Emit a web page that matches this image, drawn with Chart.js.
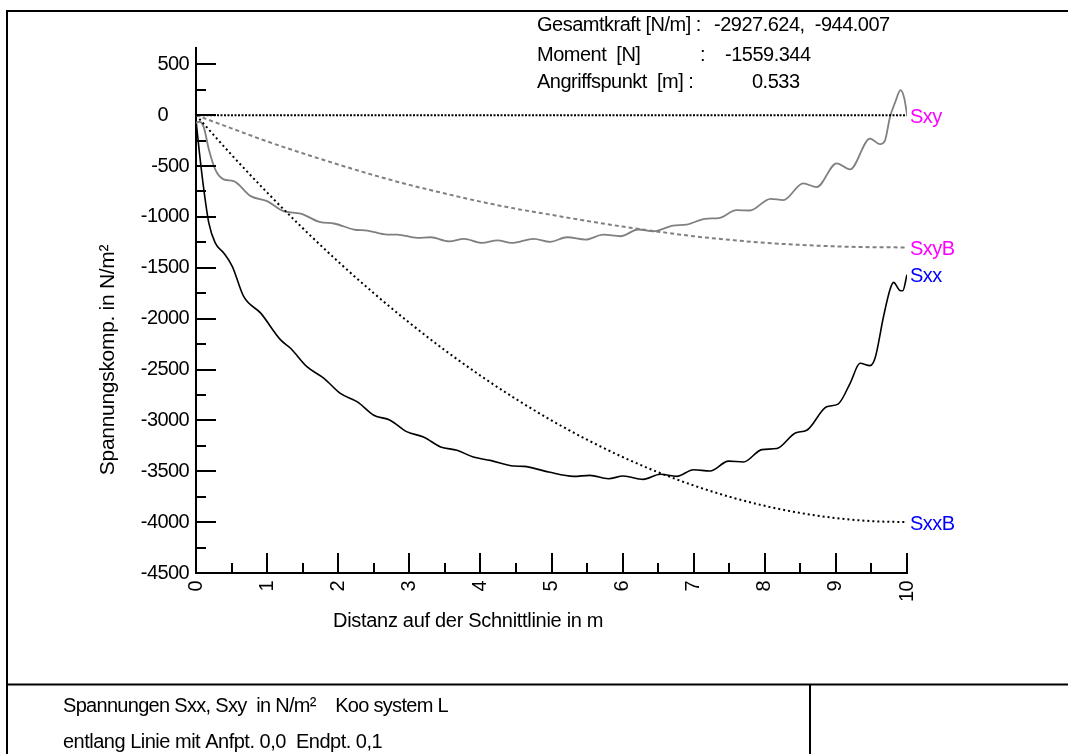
<!DOCTYPE html>
<html><head><meta charset="utf-8">
<script src="https://cdn.jsdelivr.net/npm/chart.js@4/dist/chart.umd.min.js"></script>
<style>html,body{margin:0;padding:0;background:#fff;overflow:hidden}#wrap{width:1068px;height:754px;position:relative}</style>
</head><body><div id="wrap"><canvas id="c" width="1068" height="754"></canvas></div>
<script>
// ---- data ----
const xTicks = [0,0.5,1,1.5,2,2.5,3,3.5,4,4.5,5,5.5,6,6.5,7,7.5,8,8.5,9,9.5,10];
const xTickLabels = ['0','','1','','2','','3','','4','','5','','6','','7','','8','','9','','10'];
const yTicks = [-4500,-4250,-4000,-3750,-3500,-3250,-3000,-2750,-2500,-2250,-2000,-1750,-1500,-1250,-1000,-750,-500,-250,0,250,500];
const yTickLabels = ['-4500','','-4000','','-3500','','-3000','','-2500','','-2000','','-1500','','-1000','','-500','','0','','500'];

const sxxX = [0,0.05,0.11,0.18,0.27,0.39,0.51,0.67,0.91,1.19,1.33,1.56,1.80,2.03,2.27,2.50,2.73,2.97,3.20,3.44,3.67,3.90,4.14,4.47,4.61,4.96,5.31,5.54,5.80,6.01,6.29,6.53,6.76,7.00,7.23,7.49,7.70,7.96,8.17,8.43,8.59,8.87,9.03,9.20,9.34,9.48,9.55,9.67,9.76,9.81,9.90,9.94,10.0];
const sxxY = [-50,-380,-730,-1058,-1255,-1354,-1486,-1782,-1946,-2209,-2291,-2472,-2587,-2735,-2818,-2949,-2998,-3113,-3163,-3261,-3294,-3360,-3393,-3449,-3452,-3508,-3550,-3540,-3573,-3547,-3580,-3530,-3550,-3485,-3497,-3400,-3409,-3287,-3277,-3123,-3097,-2867,-2840,-2636,-2439,-2462,-2390,-1979,-1716,-1644,-1723,-1726,-1568];

const sxyX = [0,0.05,0.11,0.18,0.27,0.39,0.53,0.77,1.00,1.23,1.47,1.75,1.94,2.22,2.41,2.69,2.83,3.11,3.30,3.56,3.77,4.02,4.24,4.44,4.75,4.98,5.22,5.48,5.73,5.97,6.22,6.43,6.71,6.90,7.16,7.37,7.60,7.79,8.08,8.26,8.54,8.73,9.01,9.20,9.48,9.62,9.69,9.76,9.83,9.91,9.96,10.0];
const sxyY = [-75,-65,-120,-335,-533,-631,-648,-796,-845,-944,-967,-1052,-1065,-1124,-1134,-1174,-1174,-1206,-1200,-1240,-1216,-1256,-1230,-1256,-1216,-1245,-1200,-1223,-1174,-1190,-1124,-1141,-1085,-1075,-1019,-1009,-934,-937,-822,-835,-671,-707,-473,-533,-230,-285,-250,-20,120,245,170,10];

const bX = [0,0.5,1,1.5,2,2.5,3,3.5,4,4.5,5,5.5,6,6.5,7,7.5,8,8.5,9,9.5,10];
const sxyBY = [0,-130,-258,-375,-485,-590,-685,-770,-850,-920,-980,-1040,-1095,-1145,-1190,-1225,-1255,-1275,-1290,-1298,-1300];
const sxxBY = [0,-390,-760,-1110,-1440,-1750,-2040,-2310,-2560,-2790,-3000,-3190,-3360,-3510,-3640,-3750,-3840,-3910,-3960,-3990,-4000];

const zeroX = [0,10];
const zeroY = [0,0];

const seriesNames = ['Sxy','SxyB','Sxx','SxxB'];
const seriesLabelColors = ['#ff00ff','#ff00ff','#0000ff','#0000ff'];
const seriesEndValues = [zeroY[1], sxyBY[sxyBY.length-1], sxxY[sxxY.length-1], sxxBY[sxxBY.length-1]];

const xTitle = 'Distanz auf der Schnittlinie in m';
const yTitle = 'Spannungskomp. in N/m²';
const info1 = ['Gesamtkraft [N/m] :', '-2927.624,  -944.007'];
const info2 = ['Moment  [N]', ':', '-1559.344'];
const info3 = ['Angriffspunkt  [m] :', '0.533'];
const foot1 = 'Spannungen Sxx, Sxy  in N/m²    Koo system L';
const foot2 = 'entlang Linie mit Anfpt. 0,0  Endpt. 0,1';

// ---- helpers ----
const FONT = "'Liberation Sans', Arial, sans-serif";
const pts = (xs, ys) => xs.map((x, i) => ({x: x, y: ys[i]}));

function txt(ctx, s, x, y, opt) {
  opt = opt || {};
  ctx.save();
  ctx.font = (opt.size || 20) + 'px ' + FONT;
  ctx.fillStyle = opt.color || '#000';
  ctx.textAlign = opt.align || 'left';
  ctx.textBaseline = 'middle';
  ctx.letterSpacing = (opt.ls !== undefined ? opt.ls : -0.5) + 'px';
  if (opt.rot) { ctx.translate(x, y); ctx.rotate(opt.rot); ctx.fillText(s, 0, 0); }
  else ctx.fillText(s, x, y);
  ctx.restore();
}

const decor = {
  id: 'decor',
  beforeDraw(chart) {
    chart.ctx.letterSpacing = '-0.6px';
  },
  afterDraw(chart) {
    const ctx = chart.ctx;
    const a = chart.chartArea;
    const xs = chart.scales.x, ys = chart.scales.y;
    ctx.save();
    ctx.strokeStyle = '#000';
    ctx.lineWidth = 2;
    ctx.beginPath();
    yTicks.forEach((v, i) => {
      const py = Math.round(ys.getPixelForValue(v));
      const len = yTickLabels[i] ? 20 : 10;
      ctx.moveTo(a.left, py); ctx.lineTo(a.left + len, py);
    });
    xTicks.forEach((v, i) => {
      const px = Math.round(xs.getPixelForValue(v));
      const len = xTickLabels[i] ? 20 : 10;
      ctx.moveTo(px, a.bottom); ctx.lineTo(px, a.bottom - len);
    });
    ctx.moveTo(6, 11); ctx.lineTo(1068, 11);
    ctx.moveTo(7, 10); ctx.lineTo(7, 754);
    ctx.moveTo(6, 684.5); ctx.lineTo(1068, 684.5);
    ctx.moveTo(810, 684); ctx.lineTo(810, 754);
    ctx.stroke();
    ctx.restore();

    seriesNames.forEach((n, i) => {
      txt(ctx, n, a.right + 3, ys.getPixelForValue(seriesEndValues[i]) + 2, {color: seriesLabelColors[i], size: 20});
    });
    txt(ctx, xTitle, 333, 621, {size: 20, ls: -0.3});
    txt(ctx, yTitle, 108, 360, {size: 21, align: 'center', rot: -Math.PI / 2, ls: -0.3});
    txt(ctx, info1[0], 537, 25); txt(ctx, info1[1], 714, 25);
    txt(ctx, info2[0], 537, 55); txt(ctx, info2[1], 700, 55); txt(ctx, info2[2], 725, 55);
    txt(ctx, info3[0], 537, 82); txt(ctx, info3[1], 752, 82);
    txt(ctx, foot1, 63, 706, {ls: -0.7});
    txt(ctx, foot2, 63, 742, {ls: -0.5});
  }
};

const lineBase = {pointRadius: 0, pointHoverRadius: 0, fill: false, cubicInterpolationMode: 'monotone'};

new Chart(document.getElementById('c'), {
  type: 'line',
  data: {
    datasets: [
      Object.assign({label: 'zero', data: pts(zeroX, zeroY), borderColor: '#000', borderWidth: 2, borderDash: [2, 1.5]}, lineBase),
      Object.assign({label: 'SxyB', data: pts(bX, sxyBY), borderColor: '#808080', borderWidth: 2, borderDash: [4, 3]}, lineBase),
      Object.assign({label: 'SxxB', data: pts(bX, sxxBY), borderColor: '#000', borderWidth: 2, borderDash: [2, 3]}, lineBase),
      Object.assign({label: 'Sxy', data: pts(sxyX, sxyY), borderColor: '#808080', borderWidth: 1.8}, lineBase),
      Object.assign({label: 'Sxx', data: pts(sxxX, sxxY), borderColor: '#000', borderWidth: 1.6}, lineBase)
    ]
  },
  options: {
    responsive: false,
    animation: false,
    devicePixelRatio: 1,
    layout: {padding: {left: 0, right: 161, top: 48, bottom: 0}},
    plugins: {legend: {display: false}, tooltip: {enabled: false}, title: {display: false}},
    scales: {
      x: {
        type: 'linear', min: 0, max: 10,
        grid: {display: false, drawTicks: false},
        border: {display: true, color: '#000', width: 2},
        afterBuildTicks: s => { s.ticks = xTicks.map(v => ({value: v})); },
        afterFit: s => { s.height = 754 - 573; },
        ticks: {autoSkip: false, minRotation: 90, maxRotation: 90, padding: 8, color: '#000',
          font: {family: FONT, size: 20},
          callback: (v, i) => xTickLabels[i]}
      },
      y: {
        type: 'linear', min: -4500, max: 660,
        grid: {display: false, drawTicks: false},
        border: {display: true, color: '#000', width: 2},
        afterBuildTicks: s => { s.ticks = yTicks.map(v => ({value: v})); },
        afterFit: s => { s.width = 196; },
        ticks: {autoSkip: false, padding: 7, color: '#000',
          font: {family: FONT, size: 20},
          callback: (v, i) => yTickLabels[i] === '0' ? '0\u2007\u2007' : yTickLabels[i]}
      }
    }
  },
  plugins: [decor]
});
</script>
</body></html>
